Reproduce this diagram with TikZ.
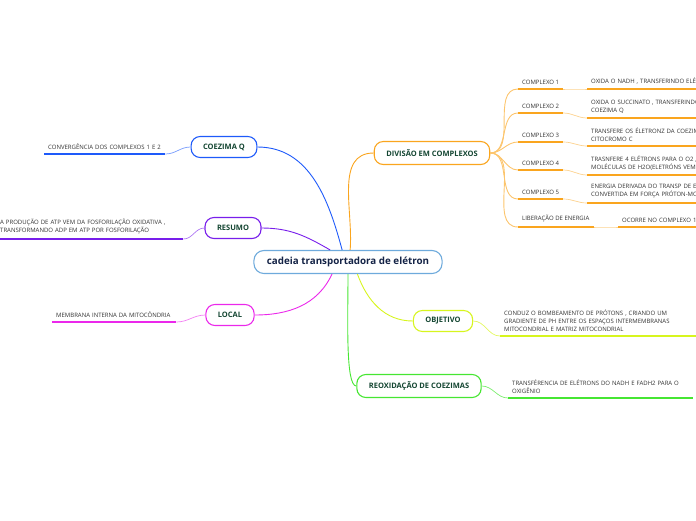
\documentclass[tikz,border=0pt]{standalone}
\usepackage{fontspec}
\setmainfont{Open Sans}
\usepackage{tikz}
\usetikzlibrary{positioning}
\definecolor{mapaAzul}{RGB}{30, 90, 250}
\definecolor{mapaRoxo}{RGB}{120, 30, 235}
\definecolor{mapaMagenta}{RGB}{235, 40, 235}
\definecolor{mapaLaranja}{RGB}{250, 165, 30}
\definecolor{mapaLima}{RGB}{215, 245, 30}
\definecolor{mapaVerde}{RGB}{70, 230, 50}
\definecolor{centroBorda}{RGB}{110, 170, 220}
\definecolor{centroTexto}{RGB}{20, 35, 70}
\definecolor{mapaTexto}{RGB}{20, 70, 50}
\definecolor{mapaCinza}{RGB}{50, 50, 50}

\tikzset{
  topico/.style={draw, rounded corners=9pt, fill=white, line width=1.1pt,
    inner xsep=12pt, minimum height=21pt, text=mapaTexto,
    font=\fontsize{7.5}{8.5}\selectfont\bfseries},
  folha/.style={anchor=south west, inner xsep=4pt, inner ysep=4.5pt,
    align=left, text=mapaCinza, font=\fontsize{6}{8}\selectfont},
  sublinha/.style={line width=1.6pt},
  ramo/.style={line width=0.9pt},
  ligacao/.style={line width=0.7pt}
}

\begin{document}
\begin{tikzpicture}[x=1pt, y=-1pt]
\useasboundingbox (0,0) rectangle (696,520);

% centro e topicos
\node[topico, draw=centroBorda, text=centroTexto, rounded corners=10pt, inner xsep=13pt,
      minimum height=23pt, font=\fontsize{9.8}{11}\selectfont\bfseries] (cadeia) at (348,262) {cadeia transportadora de elétron};
\node[topico, draw=mapaAzul] (coezima) at (224,147) {COEZIMA Q};
\node[topico, draw=mapaRoxo] (resumo) at (233,228) {RESUMO};
\node[topico, draw=mapaMagenta] (local) at (230,315) {LOCAL};
\node[topico, draw=mapaLaranja, minimum height=23pt] (divisao) at (432,153) {DIVISÃO EM COMPLEXOS};
\node[topico, draw=mapaLima] (objetivo) at (443,321) {OBJETIVO};
\node[topico, draw=mapaVerde, minimum height=23pt] (reoxidacao) at (419,386) {REOXIDAÇÃO DE COEZIMAS};

\draw[ramo, mapaRoxo] (cadeia.146) to[out=150,in=0] (resumo.east);
\draw[ramo, mapaAzul] (cadeia.116) to[out=105,in=0] (coezima.east);
\draw[ramo, mapaLaranja] (cadeia.80) to[out=85,in=180] (divisao.west);
\draw[ramo, mapaMagenta] (cadeia.217) to[out=245,in=0] (local.east);
\draw[ramo, mapaVerde] (cadeia.270) to[out=270,in=180,in looseness=0.25] (reoxidacao.west);
\draw[ramo, mapaLima] (cadeia.308) to[out=290,in=180] (objetivo.west);

% lado esquerdo
\node[folha, text width=113pt] (convergencia) at (44,154) {CONVERGÊNCIA DOS COMPLEXOS 1 E 2};
\draw[sublinha, mapaAzul] (convergencia.south west) -- (convergencia.south east);
\draw[ligacao, mapaAzul!60] (convergencia.south east) to[out=0,in=180] (coezima.west);

\node[folha, text width=179pt] (producao) at (-4,239) {A PRODUÇÃO DE ATP VEM DA FOSFORILAÇÃO OXIDATIVA ,\\TRANSFORMANDO ADP EM ATP POR FOSFORILAÇÃO};
\draw[sublinha, mapaRoxo] (producao.south west) -- (producao.south east);
\draw[ligacao, mapaRoxo!60] (producao.south east) to[out=0,in=180] (resumo.west);

\node[folha, text width=116pt] (membrana) at (52,322) {MEMBRANA INTERNA DA MITOCÔNDRIA};
\draw[sublinha, mapaMagenta] (membrana.south west) -- (membrana.south east);
\draw[ligacao, mapaMagenta!60] (membrana.south east) to[out=0,in=180] (local.west);

% complexos
\foreach \nome/\rotulo/\ya/\xb/\yb/\texto in {
    c1/COMPLEXO 1/89/587/89/{OXIDA O NADH , TRANSFERINDO ELÉTRONS},
    c2/COMPLEXO 2/113/587/118/{OXIDA O SUCCINATO , TRANSFERINDO\\COEZIMA Q},
    c3/COMPLEXO 3/142/587/146/{TRANSFERE OS ÉLETRONZ DA COEZIMA\\CITOCROMO C},
    c4/COMPLEXO 4/170/587/175/{TRASNFERE 4 ELÉTRONS PARA O O2 ,\\MOLÉCULAS DE H2O(ELETRÓNS VEM},
    c5/COMPLEXO 5/199/587/203/{ENERGIA DERIVADA DO TRANSP DE E\\CONVERTIDA EM FORÇA PRÓTON-MO},
    lib/LIBERAÇÃO DE ENERGIA/227/618/227/{OCORRE NO COMPLEXO 1}}{
  \node[folha] (\nome) at (518,\ya) {\rotulo};
  \draw[sublinha, mapaLaranja] (\nome.south west) -- (\nome.south east);
  \draw[ramo, mapaLaranja!65] (divisao.east) to[out=0,in=180] (\nome.south west);
  \node[folha, text width=200pt] (\nome-d) at (\xb,\yb) {\texto};
  \draw[sublinha, mapaLaranja] (\nome-d.south west) -- (\nome-d.south east);
  \draw[ligacao, mapaLaranja!50] (\nome.south east) to[out=0,in=180] (\nome-d.south west);
}

% objetivo e reoxidacao
\node[folha, text width=192pt] (bombeamento) at (500,336) {CONDUZ O BOMBEAMENTO DE PRÓTONS , CRIANDO UM\\GRADIENTE DE PH ENTRE OS ESPAÇOS INTERMEMBRANAS\\MITOCONDRIAL E MATRIZ MITOCONDRIAL};
\draw[sublinha, mapaLima] (bombeamento.south west) -- (bombeamento.south east);
\draw[ligacao, mapaLima!70] (objetivo.east) to[out=0,in=180] (bombeamento.south west);

\node[folha, text width=177pt] (transferencia) at (508,398) {TRANSFÉRENCIA DE ELÉTRONS DO NADH E FADH2 PARA O\\OXIGÊNIO};
\draw[sublinha, mapaVerde] (transferencia.south west) -- (transferencia.south east);
\draw[ligacao, mapaVerde!70] (reoxidacao.east) to[out=0,in=180] (transferencia.south west);
\end{tikzpicture}
\end{document}
